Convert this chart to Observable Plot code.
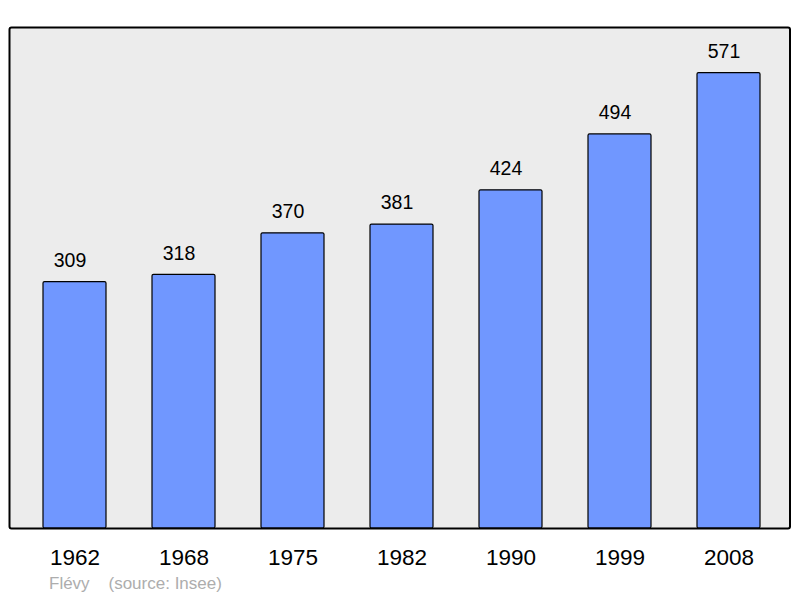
<!DOCTYPE html>
<html>
<head>
<meta charset="utf-8">
<script src="https://cdn.jsdelivr.net/npm/d3@7"></script>
<script src="https://cdn.jsdelivr.net/npm/@observablehq/plot@0.6"></script>
<style>
  html, body { margin: 0; padding: 0; background: #fff; }
  body { width: 800px; height: 598px; position: relative; overflow: hidden; font-family: "Liberation Sans", Arial, sans-serif; }
  #caption { position: absolute; left: 49px; top: 574px; font-size: 17px; color: #adadad; white-space: pre; }
</style>
</head>
<body>
<div id="chart"></div>
<div id="caption">Flévy    (source: Insee)</div>
<script>
const years = ["1962", "1968", "1975", "1982", "1990", "1999", "2008"];
const population = [309, 318, 370, 381, 424, 494, 571];

const data = years.map((y, i) => ({year: y, value: population[i]}));
const yMax = d3.max(population) * 1.1;

const chart = Plot.plot({
  width: 800,
  height: 570,
  marginLeft: 9,
  marginRight: 10.5,
  marginTop: 27,
  marginBottom: 42,
  style: {fontFamily: "'Liberation Sans', Arial, sans-serif", background: "transparent"},
  x: {type: "band", domain: years, range: [41.5, 761.5], paddingInner: 0.424, paddingOuter: 0},
  y: {domain: [0, yMax]},
  marks: [
    Plot.frame({fill: "#ececec", stroke: null, rx: 2}),
    Plot.barY(data, {x: "year", y: "value", fill: "#7097ff", stroke: "#000", strokeWidth: 1.2, rx: 1.5}),
    Plot.text(data, {x: "year", y: "value", text: d => String(d.value), dx: -5, dy: -21.5, fontSize: 19.5, fill: "#000"}),
    Plot.frame({stroke: "#000", strokeWidth: 2, rx: 2}),
    Plot.axisX({tickSize: 0, tickPadding: 21, fontSize: 22.5, label: null, color: "#000"}),
    Plot.axisY({ticks: [], label: null})
  ]
});
document.getElementById("chart").appendChild(chart);
</script>
</body>
</html>
